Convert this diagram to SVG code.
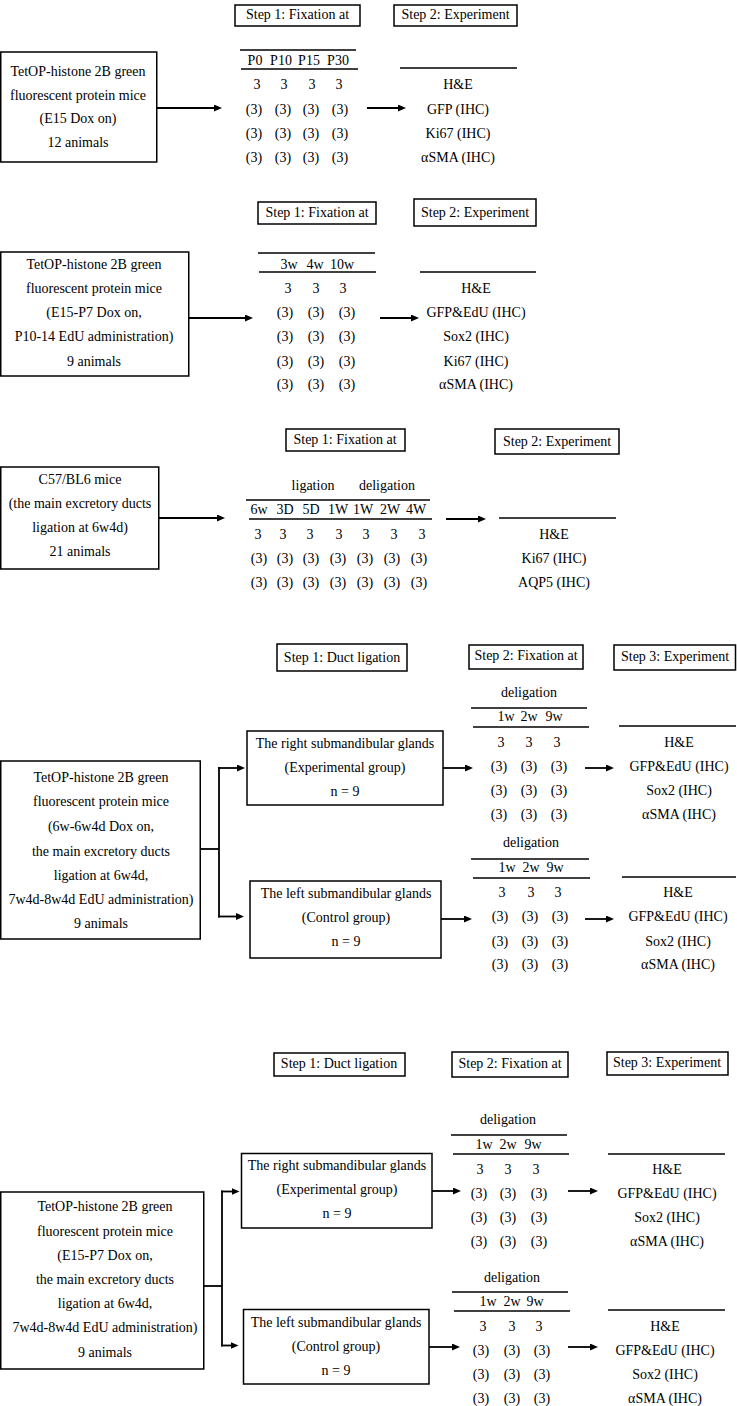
<svg xmlns="http://www.w3.org/2000/svg" width="737" height="1406" viewBox="0 0 737 1406">
<defs>
<style>
.t{font-family:"Liberation Serif","Times New Roman",serif;font-size:14px;text-anchor:middle;fill:#000}
.box{fill:#fff;stroke:#000;stroke-width:1.5}
.rule{stroke:#000;stroke-width:1.3;fill:none}
.conn{stroke:#000;stroke-width:1.8;fill:none}
.arr{stroke:#000;stroke-width:1.8;fill:none;marker-end:url(#ah)}
</style>
<marker id="ah" markerUnits="userSpaceOnUse" markerWidth="9" markerHeight="8" refX="2" refY="3.5" orient="auto"><path d="M0,0 L8,3.5 L0,7 z" fill="#000"/></marker>
</defs>
<rect width="737" height="1406" fill="#fff"/>

<!-- ===== Section 1 ===== -->
<g id="s1-step1"><rect class="box" x="235" y="5" width="125" height="21"/><text class="t" x="297.5" y="18.5">Step 1: Fixation at</text></g>
<g id="s1-step2"><rect class="box" x="394" y="5" width="123" height="21"/><text class="t" x="455.5" y="18.5">Step 2: Experiment</text></g>
<g id="s1-source"><rect class="box" x="0.75" y="52" width="156" height="110"/>
<text class="t" x="78" y="75.5">TetOP-histone 2B green</text>
<text class="t" x="78" y="99.5">fluorescent protein mice</text>
<text class="t" x="78" y="123">(E15 Dox on)</text>
<text class="t" x="78" y="147">12 animals</text></g>
<g id="s1-fixation">
<line class="rule" x1="240" y1="50" x2="356" y2="50"/><line class="rule" x1="241" y1="69" x2="358" y2="69"/>
<text class="t" x="255" y="65">P0</text><text class="t" x="281" y="65">P10</text><text class="t" x="309" y="65">P15</text><text class="t" x="338" y="65">P30</text>
<text class="t" x="257" y="89">3</text><text class="t" x="284" y="89">3</text><text class="t" x="312" y="89">3</text><text class="t" x="339" y="89">3</text>
<text class="t" x="254" y="113.5">(3)</text><text class="t" x="283" y="113.5">(3)</text><text class="t" x="311" y="113.5">(3)</text><text class="t" x="340" y="113.5">(3)</text>
<text class="t" x="254" y="137.5">(3)</text><text class="t" x="283" y="137.5">(3)</text><text class="t" x="311" y="137.5">(3)</text><text class="t" x="340" y="137.5">(3)</text>
<text class="t" x="254" y="161.5">(3)</text><text class="t" x="283" y="161.5">(3)</text><text class="t" x="311" y="161.5">(3)</text><text class="t" x="340" y="161.5">(3)</text>
</g>
<g id="s1-experiment">
<line class="rule" x1="400" y1="68" x2="517" y2="68"/>
<text class="t" x="458" y="89">H&amp;E</text><text class="t" x="458" y="113.5">GFP (IHC)</text><text class="t" x="458" y="137.5">Ki67 (IHC)</text><text class="t" x="458" y="161.5">αSMA (IHC)</text>
</g>

<!-- ===== Section 2 ===== -->
<g id="s2-step1"><rect class="box" x="258" y="202" width="118" height="22"/><text class="t" x="317" y="217">Step 1: Fixation at</text></g>
<g id="s2-step2"><rect class="box" x="414" y="199" width="122" height="27"/><text class="t" x="475" y="216.5">Step 2: Experiment</text></g>
<g id="s2-source"><rect class="box" x="0.75" y="252" width="188" height="124"/>
<text class="t" x="94" y="269">TetOP-histone 2B green</text>
<text class="t" x="94" y="293">fluorescent protein mice</text>
<text class="t" x="94" y="317">(E15-P7 Dox on,</text>
<text class="t" x="94" y="341">P10-14 EdU administration)</text>
<text class="t" x="94" y="366">9 animals</text></g>
<g id="s2-fixation">
<line class="rule" x1="258" y1="253" x2="375" y2="253"/><line class="rule" x1="259" y1="272" x2="376" y2="272"/>
<text class="t" x="289" y="268.5">3w</text><text class="t" x="315" y="268.5">4w</text><text class="t" x="342" y="268.5">10w</text>
<text class="t" x="288" y="292.5">3</text><text class="t" x="316" y="292.5">3</text><text class="t" x="343" y="292.5">3</text>
<text class="t" x="285" y="316.5">(3)</text><text class="t" x="316" y="316.5">(3)</text><text class="t" x="347" y="316.5">(3)</text>
<text class="t" x="285" y="340.5">(3)</text><text class="t" x="316" y="340.5">(3)</text><text class="t" x="347" y="340.5">(3)</text>
<text class="t" x="285" y="365.5">(3)</text><text class="t" x="316" y="365.5">(3)</text><text class="t" x="347" y="365.5">(3)</text>
<text class="t" x="285" y="388.5">(3)</text><text class="t" x="316" y="388.5">(3)</text><text class="t" x="347" y="388.5">(3)</text>
</g>
<g id="s2-experiment">
<line class="rule" x1="420" y1="272" x2="536" y2="272"/>
<text class="t" x="476" y="292.5">H&amp;E</text><text class="t" x="476" y="316.5">GFP&amp;EdU (IHC)</text><text class="t" x="476" y="340.5">Sox2 (IHC)</text><text class="t" x="476" y="365.5">Ki67 (IHC)</text><text class="t" x="476" y="388.5">αSMA (IHC)</text>
</g>

<!-- ===== Section 3 ===== -->
<g id="s3-step1"><rect class="box" x="286" y="429" width="119" height="22"/><text class="t" x="345" y="443.5">Step 1: Fixation at</text></g>
<g id="s3-step2"><rect class="box" x="495" y="429" width="124" height="25"/><text class="t" x="557" y="446">Step 2: Experiment</text></g>
<g id="s3-source"><rect class="box" x="0.75" y="467" width="158" height="102"/>
<text class="t" x="80" y="483.5">C57/BL6 mice</text>
<text class="t" x="80" y="507.5">(the main excretory ducts</text>
<text class="t" x="80" y="531.5">ligation at 6w4d)</text>
<text class="t" x="80" y="556">21 animals</text></g>
<g id="s3-fixation">
<text class="t" x="313" y="490">ligation</text><text class="t" x="387" y="490">deligation</text>
<line class="rule" x1="246" y1="500" x2="430" y2="500"/><line class="rule" x1="249" y1="519" x2="432" y2="519"/>
<text class="t" x="259" y="514">6w</text><text class="t" x="285" y="514">3D</text><text class="t" x="311" y="514">5D</text><text class="t" x="338" y="514">1W</text><text class="t" x="363" y="514">1W</text><text class="t" x="390" y="514">2W</text><text class="t" x="416" y="514">4W</text>
<text class="t" x="258" y="538.5">3</text><text class="t" x="283" y="538.5">3</text><text class="t" x="310" y="538.5">3</text><text class="t" x="339" y="538.5">3</text><text class="t" x="366" y="538.5">3</text><text class="t" x="394" y="538.5">3</text><text class="t" x="422" y="538.5">3</text>
<text class="t" x="259" y="562.5">(3)</text><text class="t" x="285" y="562.5">(3)</text><text class="t" x="311" y="562.5">(3)</text><text class="t" x="338" y="562.5">(3)</text><text class="t" x="365" y="562.5">(3)</text><text class="t" x="392" y="562.5">(3)</text><text class="t" x="419" y="562.5">(3)</text>
<text class="t" x="259" y="586.5">(3)</text><text class="t" x="285" y="586.5">(3)</text><text class="t" x="311" y="586.5">(3)</text><text class="t" x="338" y="586.5">(3)</text><text class="t" x="365" y="586.5">(3)</text><text class="t" x="392" y="586.5">(3)</text><text class="t" x="419" y="586.5">(3)</text>
</g>
<g id="s3-experiment">
<line class="rule" x1="499" y1="518" x2="616" y2="518"/>
<text class="t" x="554" y="538.5">H&amp;E</text><text class="t" x="554" y="562.5">Ki67 (IHC)</text><text class="t" x="554" y="586.5">AQP5 (IHC)</text>
</g>

<!-- ===== Section 4 ===== -->
<g id="s4-step1"><rect class="box" x="277" y="644" width="130" height="27"/><text class="t" x="342" y="662">Step 1: Duct ligation</text></g>
<g id="s4-step2"><rect class="box" x="469" y="645" width="114" height="24"/><text class="t" x="526" y="660">Step 2: Fixation at</text></g>
<g id="s4-step3"><rect class="box" x="614" y="645" width="121.5" height="25"/><text class="t" x="675" y="660.5">Step 3: Experiment</text></g>
<g id="s4-source"><rect class="box" x="0.75" y="761" width="199.5" height="178"/>
<text class="t" x="101" y="782">TetOP-histone 2B green</text>
<text class="t" x="101" y="806">fluorescent protein mice</text>
<text class="t" x="101" y="831">(6w-6w4d Dox on,</text>
<text class="t" x="101" y="856">the main excretory ducts</text>
<text class="t" x="101" y="880">ligation at 6w4d,</text>
<text class="t" x="101" y="904">7w4d-8w4d EdU administration)</text>
<text class="t" x="101" y="928">9 animals</text></g>
<g id="s4-right"><rect class="box" x="247" y="731" width="196" height="74"/>
<text class="t" x="345" y="748">The right submandibular glands</text>
<text class="t" x="345" y="772">(Experimental group)</text>
<text class="t" x="345" y="796">n = 9</text></g>
<g id="s4-left"><rect class="box" x="250" y="881" width="191" height="77"/>
<text class="t" x="346" y="898">The left submandibular glands</text>
<text class="t" x="346" y="922">(Control group)</text>
<text class="t" x="346" y="946">n = 9</text></g>
<g id="s4-fix-right">
<text class="t" x="529" y="697">deligation</text>
<line class="rule" x1="471" y1="708" x2="587" y2="708"/><line class="rule" x1="473" y1="727" x2="589" y2="727"/>
<text class="t" x="506" y="721">1w</text><text class="t" x="529" y="721">2w</text><text class="t" x="554" y="721">9w</text>
<text class="t" x="501" y="746.5">3</text><text class="t" x="529" y="746.5">3</text><text class="t" x="557" y="746.5">3</text>
<text class="t" x="499" y="770.5">(3)</text><text class="t" x="529" y="770.5">(3)</text><text class="t" x="559" y="770.5">(3)</text>
<text class="t" x="499" y="794.5">(3)</text><text class="t" x="529" y="794.5">(3)</text><text class="t" x="559" y="794.5">(3)</text>
<text class="t" x="499" y="818.5">(3)</text><text class="t" x="529" y="818.5">(3)</text><text class="t" x="559" y="818.5">(3)</text>
</g>
<g id="s4-exp-right">
<line class="rule" x1="619" y1="726" x2="736" y2="726"/>
<text class="t" x="679" y="746.5">H&amp;E</text><text class="t" x="679" y="770.5">GFP&amp;EdU (IHC)</text><text class="t" x="679" y="794.5">Sox2 (IHC)</text><text class="t" x="679" y="818.5">αSMA (IHC)</text>
</g>
<g id="s4-fix-left">
<text class="t" x="531" y="847">deligation</text>
<line class="rule" x1="471" y1="859" x2="589" y2="859"/><line class="rule" x1="473" y1="878" x2="590" y2="878"/>
<text class="t" x="507" y="872">1w</text><text class="t" x="531" y="872">2w</text><text class="t" x="555" y="872">9w</text>
<text class="t" x="502" y="896.5">3</text><text class="t" x="531" y="896.5">3</text><text class="t" x="558" y="896.5">3</text>
<text class="t" x="500" y="920.5">(3)</text><text class="t" x="530" y="920.5">(3)</text><text class="t" x="560" y="920.5">(3)</text>
<text class="t" x="500" y="945.5">(3)</text><text class="t" x="530" y="945.5">(3)</text><text class="t" x="560" y="945.5">(3)</text>
<text class="t" x="500" y="968.5">(3)</text><text class="t" x="530" y="968.5">(3)</text><text class="t" x="560" y="968.5">(3)</text>
</g>
<g id="s4-exp-left">
<line class="rule" x1="622" y1="877" x2="736" y2="877"/>
<text class="t" x="678" y="896.5">H&amp;E</text><text class="t" x="678" y="920.5">GFP&amp;EdU (IHC)</text><text class="t" x="678" y="945.5">Sox2 (IHC)</text><text class="t" x="678" y="968.5">αSMA (IHC)</text>
</g>

<!-- ===== Section 5 ===== -->
<g id="s5-step1"><rect class="box" x="274" y="1053" width="131" height="23"/><text class="t" x="339" y="1067.5">Step 1: Duct ligation</text></g>
<g id="s5-step2"><rect class="box" x="452" y="1052" width="116" height="25"/><text class="t" x="510" y="1068">Step 2: Fixation at</text></g>
<g id="s5-step3"><rect class="box" x="607" y="1052" width="121" height="23"/><text class="t" x="667" y="1067">Step 3: Experiment</text></g>
<g id="s5-source"><rect class="box" x="0.75" y="1192" width="203" height="177"/>
<text class="t" x="105" y="1211">TetOP-histone 2B green</text>
<text class="t" x="105" y="1236">fluorescent protein mice</text>
<text class="t" x="105" y="1260">(E15-P7 Dox on,</text>
<text class="t" x="105" y="1284">the main excretory ducts</text>
<text class="t" x="105" y="1308">ligation at 6w4d,</text>
<text class="t" x="105" y="1332">7w4d-8w4d EdU administration)</text>
<text class="t" x="105" y="1357">9 animals</text></g>
<g id="s5-right"><rect class="box" x="241.5" y="1153.5" width="190.5" height="74.5"/>
<text class="t" x="337" y="1170">The right submandibular glands</text>
<text class="t" x="337" y="1194">(Experimental group)</text>
<text class="t" x="337" y="1218">n = 9</text></g>
<g id="s5-left"><rect class="box" x="243.5" y="1309.5" width="185.5" height="74.5"/>
<text class="t" x="336" y="1327">The left submandibular glands</text>
<text class="t" x="336" y="1351">(Control group)</text>
<text class="t" x="336" y="1375">n = 9</text></g>
<g id="s5-fix-right">
<text class="t" x="508" y="1123.5">deligation</text>
<line class="rule" x1="451" y1="1135" x2="567" y2="1135"/><line class="rule" x1="453" y1="1154" x2="569" y2="1154"/>
<text class="t" x="484" y="1148.5">1w</text><text class="t" x="508" y="1148.5">2w</text><text class="t" x="533" y="1148.5">9w</text>
<text class="t" x="480" y="1174">3</text><text class="t" x="508" y="1174">3</text><text class="t" x="536" y="1174">3</text>
<text class="t" x="479" y="1198">(3)</text><text class="t" x="508" y="1198">(3)</text><text class="t" x="539" y="1198">(3)</text>
<text class="t" x="479" y="1222">(3)</text><text class="t" x="508" y="1222">(3)</text><text class="t" x="539" y="1222">(3)</text>
<text class="t" x="479" y="1246">(3)</text><text class="t" x="508" y="1246">(3)</text><text class="t" x="539" y="1246">(3)</text>
</g>
<g id="s5-exp-right">
<line class="rule" x1="608" y1="1154" x2="725" y2="1154"/>
<text class="t" x="667" y="1174">H&amp;E</text><text class="t" x="667" y="1198">GFP&amp;EdU (IHC)</text><text class="t" x="667" y="1222">Sox2 (IHC)</text><text class="t" x="667" y="1246">αSMA (IHC)</text>
</g>
<g id="s5-fix-left">
<text class="t" x="512" y="1281.5">deligation</text>
<line class="rule" x1="452" y1="1292" x2="568" y2="1292"/><line class="rule" x1="454" y1="1311" x2="570" y2="1311"/>
<text class="t" x="488" y="1305.5">1w</text><text class="t" x="512" y="1305.5">2w</text><text class="t" x="535" y="1305.5">9w</text>
<text class="t" x="483" y="1330.5">3</text><text class="t" x="512" y="1330.5">3</text><text class="t" x="539" y="1330.5">3</text>
<text class="t" x="481" y="1354.5">(3)</text><text class="t" x="512" y="1354.5">(3)</text><text class="t" x="542" y="1354.5">(3)</text>
<text class="t" x="481" y="1378.5">(3)</text><text class="t" x="512" y="1378.5">(3)</text><text class="t" x="542" y="1378.5">(3)</text>
<text class="t" x="481" y="1402.5">(3)</text><text class="t" x="512" y="1402.5">(3)</text><text class="t" x="542" y="1402.5">(3)</text>
</g>
<g id="s5-exp-left">
<line class="rule" x1="608" y1="1310" x2="725" y2="1310"/>
<text class="t" x="665" y="1330.5">H&amp;E</text><text class="t" x="665" y="1354.5">GFP&amp;EdU (IHC)</text><text class="t" x="665" y="1378.5">Sox2 (IHC)</text><text class="t" x="665" y="1402.5">αSMA (IHC)</text>
</g>

<!-- ===== Connectors ===== -->
<g id="connectors">
<line class="arr" x1="157" y1="108" x2="216" y2="108"/>
<line class="arr" x1="367" y1="108" x2="400" y2="108"/>
<line class="arr" x1="189" y1="318" x2="247" y2="318"/>
<line class="arr" x1="380" y1="318" x2="413" y2="318"/>
<line class="arr" x1="159" y1="518" x2="219" y2="518"/>
<line class="arr" x1="446" y1="519" x2="480" y2="519"/>
<line class="conn" x1="200" y1="849" x2="219" y2="849"/>
<line class="conn" x1="219" y1="767.1" x2="219" y2="917.4"/>
<line class="arr" x1="218.1" y1="768" x2="239" y2="768"/>
<line class="arr" x1="218.1" y1="916.5" x2="238" y2="916.5"/>
<line class="arr" x1="443" y1="768" x2="467" y2="768"/>
<line class="arr" x1="585" y1="768" x2="608" y2="768"/>
<line class="arr" x1="441" y1="919" x2="466" y2="919"/>
<line class="arr" x1="585" y1="919" x2="608" y2="919"/>
<line class="conn" x1="204" y1="1286" x2="222" y2="1286"/>
<line class="conn" x1="222" y1="1190.6" x2="222" y2="1346.4"/>
<line class="arr" x1="221.1" y1="1191.5" x2="233.5" y2="1191.5"/>
<line class="arr" x1="221.1" y1="1345.5" x2="232.5" y2="1345.5"/>
<line class="arr" x1="432" y1="1191" x2="455" y2="1191"/>
<line class="arr" x1="568" y1="1191" x2="592" y2="1191"/>
<line class="arr" x1="429" y1="1347" x2="454" y2="1347"/>
<line class="arr" x1="568" y1="1347" x2="592" y2="1347"/>
</g>
</svg>
